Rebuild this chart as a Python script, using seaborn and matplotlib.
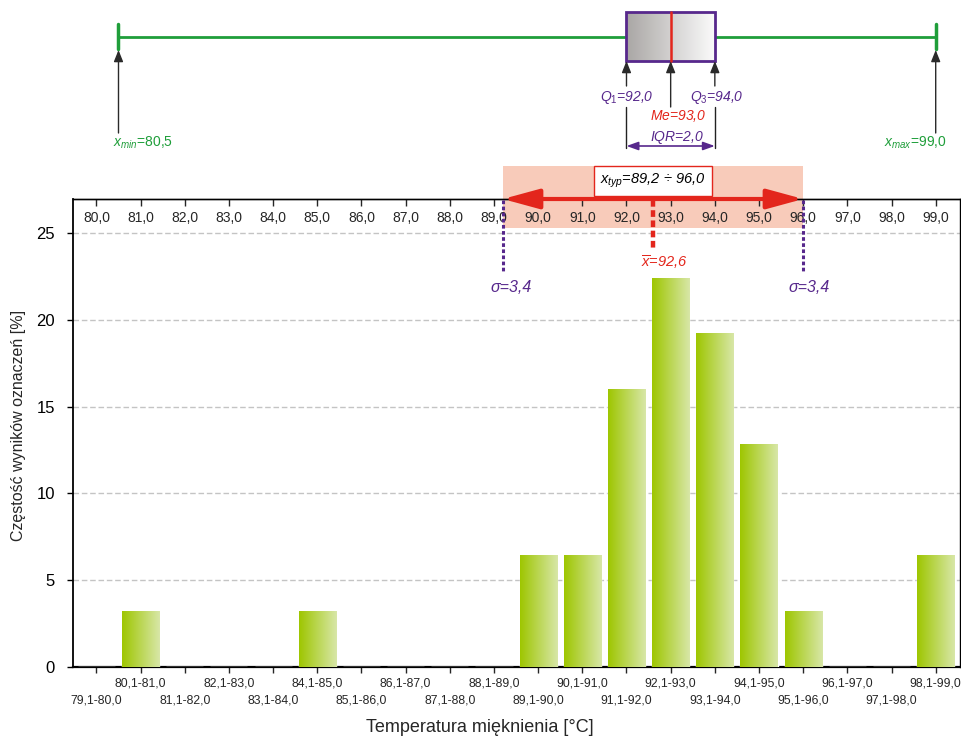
import numpy as np
import pandas as pd
import seaborn as sns
import matplotlib
matplotlib.use("Agg")
import matplotlib.pyplot as plt
import matplotlib.transforms as mtransforms
from matplotlib.patches import Rectangle
from matplotlib.colors import LinearSegmentedColormap

# ---------------- data ----------------
bin_labels = ["79,1-80,0", "80,1-81,0", "81,1-82,0", "82,1-83,0", "83,1-84,0",
              "84,1-85,0", "85,1-86,0", "86,1-87,0", "87,1-88,0", "88,1-89,0",
              "89,1-90,0", "90,1-91,0", "91,1-92,0", "92,1-93,0", "93,1-94,0",
              "94,1-95,0", "95,1-96,0", "96,1-97,0", "97,1-98,0", "98,1-99,0"]
percent = [0, 3.2, 0, 0, 0, 3.2, 0, 0, 0, 0,
           6.4, 6.4, 16.0, 22.4, 19.2, 12.8, 3.2, 0, 0, 6.4]
top_labels = ["80,0", "81,0", "82,0", "83,0", "84,0", "85,0", "86,0", "87,0",
              "88,0", "89,0", "90,0", "91,0", "92,0", "93,0", "94,0", "95,0",
              "96,0", "97,0", "98,0", "99,0"]
y_ticks = [0, 5, 10, 15, 20, 25]
scale_start = 80.0          # temperature of the first category position

x_min, x_max = 80.5, 99.0
q1, median, q3, iqr = 92.0, 93.0, 94.0, 2.0
mean, sigma = 92.6, 3.4
typ_lo, typ_hi = 89.2, 96.0

# ---------------- style ----------------
sns.set_theme(style="white")
FONT = "Liberation Sans"
plt.rcParams["font.family"] = [FONT, "DejaVu Sans"]
plt.rcParams["mathtext.fontset"] = "custom"
plt.rcParams["mathtext.rm"] = FONT
plt.rcParams["mathtext.it"] = FONT + ":italic"
plt.rcParams["mathtext.bf"] = FONT + ":bold"

GREEN = "#1f9e3a"
PURPLE = "#57288c"
RED = "#e3261c"
SALMON = "#f8cbba"

W, H = 962, 738
fig = plt.figure(figsize=(W / 100, H / 100), dpi=100)
ax = fig.add_axes([73 / W, 71 / H, 887 / W, 468 / H])

df = pd.DataFrame({"bin": bin_labels, "pct": percent})
sns.barplot(data=df, x="bin", y="pct", order=bin_labels, color="#bcd95a",
            saturation=1, width=0.84, ax=ax, zorder=3)

# gradient fill on bars
green_cmap = LinearSegmentedColormap.from_list("g", ["#9ec600", "#d8e7a8"])
grad = np.linspace(0, 1, 256).reshape(1, -1)
for p in list(ax.patches):
    h = p.get_height()
    if h <= 0:
        continue
    x0, w = p.get_x(), p.get_width()
    ax.imshow(grad, extent=[x0, x0 + w, 0, h], aspect="auto", cmap=green_cmap,
              zorder=3.1, interpolation="bilinear")


def pos(v):
    return v - scale_start


def px(n):
    return n / 44.18


XL = (-0.53, 19.55)
YL = (0, 26.96)

# grid & spines
ax.set_yticks(y_ticks)
ax.yaxis.grid(True, linestyle=(0, (4, 2)), color="#c4c4c4", lw=1)
ax.xaxis.grid(False)
for s in ax.spines.values():
    s.set_color("black")
    s.set_linewidth(1.0)
ax.spines["bottom"].set_linewidth(1.6)
ax.spines["left"].set_linewidth(1.3)

ax.tick_params(axis="y", length=4, width=1, direction="out", pad=9,
               labelsize=12, left=True, colors="black")
# two staggered rows of bin labels
ax.set_xticks(range(0, len(bin_labels), 2), labels=bin_labels[0::2])
ax.set_xticks(range(1, len(bin_labels), 2), labels=bin_labels[1::2], minor=True)
ax.tick_params(axis="x", which="major", length=4, width=1, direction="out", pad=15.5,
               labelsize=8.8, bottom=True)
ax.tick_params(axis="x", which="minor", length=4, width=1, direction="out", pad=3.5,
               labelsize=8.8, bottom=True)
ax.set_xlabel("Temperatura mięknienia [°C]", fontsize=13)
ax.set_ylabel("Częstość wyników oznaczeń [%]", fontsize=11.5)
ax.xaxis.set_label_coords((480 - 73) / 887, (667 - 727) / 468)
ax.xaxis.label.set_va("center")
ax.yaxis.set_label_coords((18 - 73) / 887, (667 - 425) / 468)
ax.yaxis.label.set_va("center")

# top axis with temperature scale
sec = ax.secondary_xaxis("top")
sec.set_xticks(range(len(top_labels)))
sec.set_xticklabels(top_labels)
sec.tick_params(direction="in", length=5, width=1, pad=-19, labelsize=10)
sec.spines["top"].set_linewidth(1.0)

# blended transform: x in data, y in pixels from the top of the figure
ytr = mtransforms.Affine2D().scale(1, -1).translate(0, H)
bl = mtransforms.blended_transform_factory(ax.transData, ytr)

# ---------------- box plot ----------------
ax.plot([pos(x_min), pos(x_max)], [37, 37], transform=bl, color=GREEN, lw=2, clip_on=False, zorder=5)
for v in (x_min, x_max):
    ax.plot([pos(v)] * 2, [24, 49], transform=bl, color=GREEN, lw=2.5, clip_on=False, zorder=5)
gray_cmap = LinearSegmentedColormap.from_list("gr", ["#a9a6a4", "#fbfbfb"])
im = ax.imshow(grad, extent=[pos(q1), pos(q3), 61, 12], aspect="auto", cmap=gray_cmap,
               transform=bl, zorder=5.5, interpolation="bilinear")
im.set_clip_on(False)
ax.add_patch(Rectangle((pos(q1), 12), pos(q3) - pos(q1), 49, transform=bl, fill=False,
                       ec=PURPLE, lw=2, clip_on=False, zorder=6))
ax.plot([pos(median)] * 2, [12, 61], transform=bl, color=RED, lw=1.8, clip_on=False, zorder=6.5)


def up_arrow(x, y_tip, y_base):
    ax.annotate("", xy=(x, y_tip), xytext=(x, y_base), xycoords=bl, textcoords=bl,
                arrowprops=dict(arrowstyle="-|>,head_length=0.7,head_width=0.28",
                                color="#2a2a2a", lw=1, shrinkA=0, shrinkB=0,
                                mutation_scale=10), annotation_clip=False, zorder=6)


up_arrow(pos(x_min), 50, 133)
up_arrow(pos(x_max), 50, 133)
up_arrow(pos(q1), 61, 86)
up_arrow(pos(q3), 61, 86)
up_arrow(pos(median), 61, 107)

kw = dict(transform=bl, clip_on=False, ha="center", va="center", style="italic", zorder=7)
ax.text(pos(x_min) - px(5), 143, r"$x_{min}$" + "=80,5", color=GREEN, fontsize=10,
        **{**kw, "ha": "left", "style": "normal"})
ax.text(pos(x_max) + px(11), 143, r"$x_{max}$" + "=99,0", color=GREEN, fontsize=10,
        **{**kw, "ha": "right", "style": "normal"})
ax.text(pos(q1), 97, r"$Q_1$" + "=92,0", color=PURPLE, fontsize=10, **kw)
ax.text(pos(q3) + px(2), 97, r"$Q_3$" + "=94,0", color=PURPLE, fontsize=10, **kw)
ax.text(pos(median) + px(7), 116, r"$Me$" + "=93,0", color=RED, fontsize=10, **kw)
ax.text(pos(median) + px(6), 137, r"$IQR$" + "=2,0", color=PURPLE, fontsize=10, **kw)
for v in (q1, q3):
    ax.plot([pos(v)] * 2, [107, 148], transform=bl, color="#222222", lw=1, clip_on=False, zorder=6)
ax.annotate("", xy=(pos(q3), 146), xytext=(pos(q1), 146), xycoords=bl, textcoords=bl,
            arrowprops=dict(arrowstyle="<|-|>,head_length=0.7,head_width=0.25",
                            color=PURPLE, lw=1.2, shrinkA=0, shrinkB=0, mutation_scale=10),
            annotation_clip=False, zorder=7)

# ---------------- typical range band ----------------
ax.add_patch(Rectangle((pos(typ_lo), 166), pos(typ_hi) - pos(typ_lo), 62, transform=bl,
                       fc=SALMON, ec="none", clip_on=False, zorder=-1))
ax.annotate("", xy=(pos(typ_hi), 199), xytext=(pos(typ_lo), 199), xycoords=bl, textcoords=bl,
            arrowprops=dict(arrowstyle="<|-|>,head_length=2.2,head_width=0.6",
                            color=RED, lw=3, shrinkA=0, shrinkB=0, mutation_scale=10),
            annotation_clip=False, zorder=8)
ax.text((pos(typ_lo) + pos(typ_hi)) / 2, 181, r"$x_{typ}$" + "=89,2 ÷ 96,0", fontsize=10.5,
        color="black", transform=bl, ha="center", va="center", style="italic", clip_on=False,
        zorder=9, bbox=dict(boxstyle="square,pad=0.4", fc="white", ec=RED, lw=1))

# mean line
ax.plot([pos(mean)] * 2, [200, 249], transform=bl, color=RED, lw=3.2,
        linestyle=(0, (1.5, 0.8)), clip_on=False, zorder=8)
ax.text(pos(mean) - px(12), 262, r"$\overline{x}$" + "=92,6", color=RED, fontsize=10.5,
        **{**kw, "ha": "left"})

# sigma lines
for v, off in ((typ_lo, 8), (typ_hi, 6)):
    ax.plot([pos(v)] * 2, [200, 271], transform=bl, color=PURPLE, lw=2.2,
            linestyle=(0, (1.2, 0.8)), clip_on=False, zorder=8)
    ax.text(pos(v) + px(off), 288, "σ=3,4", color=PURPLE, fontsize=11.5, **kw)

ax.set_xlim(*XL)
ax.set_ylim(*YL)

fig.savefig("out.png", dpi=100)
